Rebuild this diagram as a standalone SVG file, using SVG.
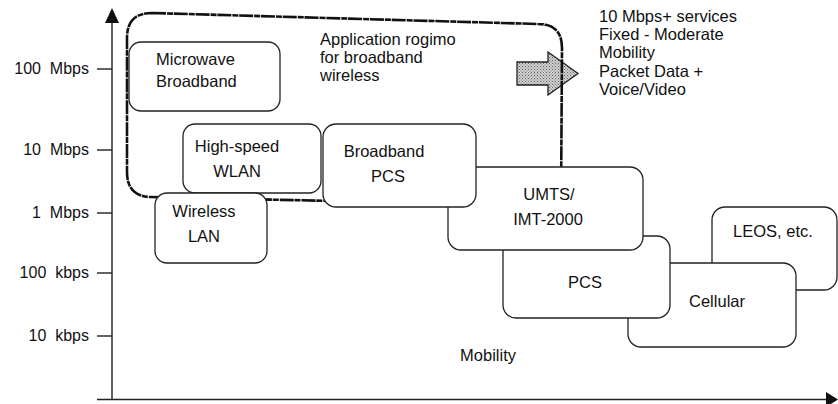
<svg xmlns="http://www.w3.org/2000/svg" width="838" height="404" viewBox="0 0 838 404">
<style>
text{font-family:"Liberation Sans",Arial,sans-serif;fill:#111;font-size:16.5px}
.ax{font-size:16px;text-anchor:end}
.c{text-anchor:middle}
.box{fill:#fff;stroke:#222;stroke-width:1.3}
.axis{stroke:#222;stroke-width:1.4;fill:none}
</style>
<rect width="838" height="404" fill="#fff"/>
<defs>
<pattern id="dots" width="3" height="3" patternUnits="userSpaceOnUse">
<rect width="3" height="3" fill="#cfcfcf"/>
<rect width="1" height="1" fill="#666"/>
<rect x="1.5" y="1.5" width="1" height="1" fill="#777"/>
</pattern>
</defs>
<g id="axes">
<line class="axis" x1="112" y1="20" x2="112" y2="400"/>
<polygon points="112,8 105,23 119,23" fill="#111"/>
<line class="axis" x1="97" y1="399.5" x2="828" y2="399.5"/>
<polygon points="838,399.5 826,392 826,407" fill="#111"/>
<line class="axis" x1="97" y1="69" x2="112" y2="69"/>
<line class="axis" x1="97" y1="150" x2="112" y2="150"/>
<line class="axis" x1="97" y1="213" x2="112" y2="213"/>
<line class="axis" x1="97" y1="273" x2="112" y2="273"/>
<line class="axis" x1="97" y1="336" x2="112" y2="336"/>
<text class="ax" x="89" y="74" xml:space="preserve">100  Mbps</text>
<text class="ax" x="89" y="155" xml:space="preserve">10  Mbps</text>
<text class="ax" x="89" y="218" xml:space="preserve">1  Mbps</text>
<text class="ax" x="89" y="278" xml:space="preserve">100  kbps</text>
<text class="ax" x="89" y="341" xml:space="preserve">10  kbps</text>
</g>
<g id="arrow">
<path d="M517,62 L548,62 L548,52 L578,73.5 L548,95 L548,85 L517,85 Z" fill="url(#dots)" stroke="#222" stroke-width="1.3"/>
</g>
<g id="regime">
<path d="M152,13 L538,24 Q562,24 562,48 L561,206 L150,197 Q127,196 127,172 L127,38 Q127,13 152,13 Z" fill="none" stroke="#111" stroke-width="2.6" stroke-dasharray="14 1 6 0.8"/>
<text x="320" y="45" font-size="17.5">Application rogimo</text>
<text x="320" y="63" font-size="17.5">for broadband</text>
<text x="320" y="81" font-size="17.5">wireless</text>
</g>
<g id="services">
<text x="599" y="22" font-size="17">10 Mbps+ services</text>
<text x="599" y="40" font-size="17">Fixed - Moderate</text>
<text x="599" y="58" font-size="17">Mobility</text>
<text x="599" y="77" font-size="17">Packet Data +</text>
<text x="599" y="95" font-size="17">Voice/Video</text>
</g>
<g id="leos">
<rect class="box" x="712" y="207" width="125" height="83" rx="13"/>
<text class="c" x="773" y="237">LEOS, etc.</text>
</g>
<g id="cellular">
<rect class="box" x="628" y="263" width="168" height="84" rx="13"/>
<text class="c" x="717" y="307">Cellular</text>
</g>
<g id="pcs">
<rect class="box" x="503" y="236" width="167" height="82" rx="13"/>
<text class="c" x="585" y="288">PCS</text>
</g>
<g id="umts">
<rect class="box" x="448" y="167" width="195" height="83" rx="13"/>
<text class="c" x="549" y="200">UMTS/</text>
<text class="c" x="548" y="225">IMT-2000</text>
</g>
<g id="wlan">
<rect class="box" x="183" y="124" width="138" height="69" rx="12"/>
<text class="c" x="237" y="152">High-speed</text>
<text class="c" x="237" y="177">WLAN</text>
</g>
<g id="bpcs">
<rect class="box" x="323" y="124" width="153" height="83" rx="13"/>
<text class="c" x="384" y="157">Broadband</text>
<text class="c" x="388" y="182">PCS</text>
</g>
<g id="microwave">
<rect class="box" x="129" y="42" width="151" height="69" rx="12"/>
<text x="156" y="65">Microwave</text>
<text x="156" y="87">Broadband</text>
</g>
<g id="wlan2">
<rect class="box" x="155" y="193" width="112" height="70" rx="12"/>
<text class="c" x="204" y="217">Wireless</text>
<text class="c" x="204" y="242">LAN</text>
</g>
<g id="mobility">
<text class="c" x="488" y="361">Mobility</text>
</g>
</svg>
